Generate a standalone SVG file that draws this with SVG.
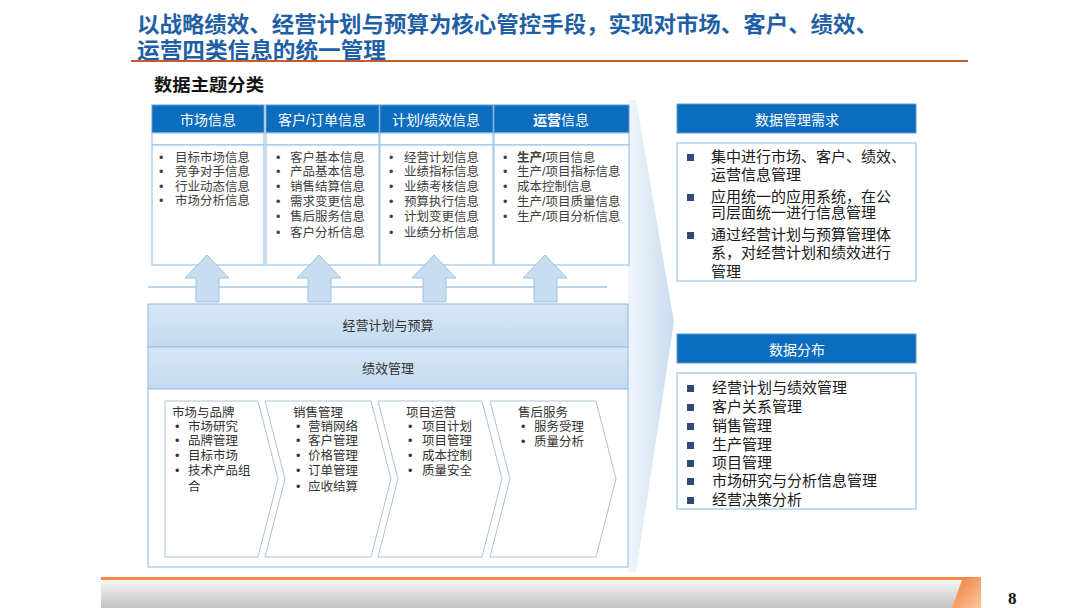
<svg xmlns="http://www.w3.org/2000/svg" width="1080" height="608" viewBox="0 0 1080 608">
<defs>
<linearGradient id="bandG" x1="0" y1="0" x2="0" y2="1"><stop offset="0" stop-color="#D6E6F5"/><stop offset="1" stop-color="#C4DBF0"/></linearGradient>
<linearGradient id="wedgeG" x1="0" y1="0" x2="1" y2="0"><stop offset="0" stop-color="#EEF4FB"/><stop offset="1" stop-color="#C3D9EF"/></linearGradient>
<linearGradient id="footG" x1="0" y1="0" x2="0" y2="1"><stop offset="0" stop-color="#FAFAFA"/><stop offset="0.5" stop-color="#DCDCDC"/><stop offset="1" stop-color="#C4C4C4"/></linearGradient>
<linearGradient id="orG" x1="0" y1="0" x2="1" y2="1"><stop offset="0" stop-color="#F07A3A"/><stop offset="1" stop-color="#FBC79A"/></linearGradient>
<style>
text{font-family:"Liberation Sans","Noto Sans CJK SC",sans-serif;}
.title{font-size:22px;font-weight:bold;fill:#1F5FA6;}
.hdr{font-size:14px;fill:#FFFFFF;text-anchor:middle;}
.hbox{fill:#0C6DBE;stroke:#5B9BD5;stroke-width:1;}
.box{fill:#FFFFFF;stroke:#9DC3E6;stroke-width:1.2;}
.it{font-size:12.5px;fill:#404040;}
.band{fill:url(#bandG);stroke:#9DC3E6;stroke-width:1.2;}
.bt{font-size:13px;fill:#333333;text-anchor:middle;}
.chev{fill:#FFFFFF;stroke:#AFC3D3;stroke-width:1;}
.ct{font-size:12.5px;fill:#333333;}
.rt{font-size:15px;fill:#1A1A1A;}
.sq{fill:#2F4A78;}
.up{fill:#C9DDF1;stroke:#9DC3E6;stroke-width:1;}
</style>
</defs>
<rect width="1080" height="608" fill="#FFFFFF"/>

<g id="title">
<text class="title" x="137" y="32" textLength="741" lengthAdjust="spacingAndGlyphs">以战略绩效、经营计划与预算为核心管控手段，实现对市场、客户、绩效、</text>
<text class="title" x="137" y="58" textLength="249" lengthAdjust="spacingAndGlyphs">运营四类信息的统一管理</text>
<line x1="131" y1="61" x2="968" y2="61" stroke="#C55A2B" stroke-width="2"/>
<text x="154" y="91" font-size="17" font-weight="bold" fill="#111111" textLength="110" lengthAdjust="spacingAndGlyphs">数据主题分类</text>
</g>

<g id="wedge">
<polygon points="628,100 636,100 674,322 636,572 628,572" fill="url(#wedgeG)" opacity="0.9"/>
</g>

<g id="col-market">
<rect class="hbox" x="152" y="105" width="112" height="28"/>
<text class="hdr" x="208" y="125">市场信息</text>
<rect class="box" x="152" y="133" width="112" height="12"/>
<rect class="box" x="152" y="145" width="112" height="120"/>
<text class="it"><tspan x="159" y="162">•</tspan><tspan x="175" y="162">目标市场信息</tspan><tspan x="159" y="176">•</tspan><tspan x="175" y="176">竞争对手信息</tspan><tspan x="159" y="191">•</tspan><tspan x="175" y="191">行业动态信息</tspan><tspan x="159" y="205">•</tspan><tspan x="175" y="205">市场分析信息</tspan></text>
</g>

<g id="col-customer">
<rect class="hbox" x="266" y="105" width="113" height="28"/>
<text class="hdr" x="322" y="125">客户/订单信息</text>
<rect class="box" x="266" y="133" width="113" height="12"/>
<rect class="box" x="266" y="145" width="113" height="120"/>
<text class="it"><tspan x="276" y="162">•</tspan><tspan x="290" y="162">客户基本信息</tspan><tspan x="276" y="176">•</tspan><tspan x="290" y="176">产品基本信息</tspan><tspan x="276" y="191">•</tspan><tspan x="290" y="191">销售结算信息</tspan><tspan x="276" y="206">•</tspan><tspan x="290" y="206">需求变更信息</tspan><tspan x="276" y="221">•</tspan><tspan x="290" y="221">售后服务信息</tspan><tspan x="276" y="237">•</tspan><tspan x="290" y="237">客户分析信息</tspan></text>
</g>

<g id="col-plan">
<rect class="hbox" x="380" y="105" width="113" height="28"/>
<text class="hdr" x="436" y="125">计划/绩效信息</text>
<rect class="box" x="380" y="133" width="113" height="12"/>
<rect class="box" x="380" y="145" width="113" height="120"/>
<text class="it"><tspan x="389" y="162">•</tspan><tspan x="404" y="162">经营计划信息</tspan><tspan x="389" y="176">•</tspan><tspan x="404" y="176">业绩指标信息</tspan><tspan x="389" y="191">•</tspan><tspan x="404" y="191">业绩考核信息</tspan><tspan x="389" y="206">•</tspan><tspan x="404" y="206">预算执行信息</tspan><tspan x="389" y="221">•</tspan><tspan x="404" y="221">计划变更信息</tspan><tspan x="389" y="237">•</tspan><tspan x="404" y="237">业绩分析信息</tspan></text>
</g>

<g id="col-ops">
<rect class="hbox" x="494" y="105" width="135" height="28"/>
<text class="hdr" x="561" y="125"><tspan font-weight="bold">运营</tspan>信息</text>
<rect class="box" x="494" y="133" width="135" height="12"/>
<rect class="box" x="494" y="145" width="135" height="120"/>
<text class="it"><tspan x="503" y="162">•</tspan><tspan x="517" y="162" font-weight="bold">生产/</tspan><tspan>项目信息</tspan><tspan x="503" y="176">•</tspan><tspan x="517" y="176">生产/项目指标信息</tspan><tspan x="503" y="191">•</tspan><tspan x="517" y="191">成本控制信息</tspan><tspan x="503" y="206">•</tspan><tspan x="517" y="206">生产/项目质量信息</tspan><tspan x="503" y="221">•</tspan><tspan x="517" y="221">生产/项目分析信息</tspan></text>
</g>

<g id="connectors">
<line x1="148" y1="287" x2="607" y2="287" stroke="#A9C4DC" stroke-width="1.5"/>
<polygon class="up" points="207,255 229,278 219,278 219,302 196,302 196,278 185,278"/>
<polygon class="up" points="319,255 341,278 331,278 331,302 308,302 308,278 297,278"/>
<polygon class="up" points="434,255 456,278 446,278 446,302 423,302 423,278 412,278"/>
<polygon class="up" points="545,255 567,278 557,278 557,302 534,302 534,278 523,278"/>
</g>

<g id="band-plan">
<rect class="band" x="148" y="304" width="480" height="43"/>
<text class="bt" x="388" y="330">经营计划与预算</text>
</g>
<g id="band-perf">
<rect class="band" x="148" y="347" width="480" height="42"/>
<text class="bt" x="388" y="373">绩效管理</text>
</g>

<g id="process">
<rect class="box" x="148" y="389" width="480" height="178"/>
<g id="chev-market">
<polygon class="chev" points="165,401 258,401 278,479 258,557 165,557"/>
<text class="ct"><tspan x="172" y="417">市场与品牌</tspan><tspan x="175" y="431">•</tspan><tspan x="188" y="431">市场研究</tspan><tspan x="175" y="445">•</tspan><tspan x="188" y="445">品牌管理</tspan><tspan x="175" y="460">•</tspan><tspan x="188" y="460">目标市场</tspan><tspan x="175" y="475">•</tspan><tspan x="188" y="475">技术产品组</tspan><tspan x="188" y="491">合</tspan></text>
</g>
<g id="chev-sales">
<polygon class="chev" points="265,401 371,401 391,479 371,557 265,557 285,479"/>
<text class="ct"><tspan x="293" y="417">销售管理</tspan><tspan x="296" y="431">•</tspan><tspan x="308" y="431">营销网络</tspan><tspan x="296" y="445">•</tspan><tspan x="308" y="445">客户管理</tspan><tspan x="296" y="460">•</tspan><tspan x="308" y="460">价格管理</tspan><tspan x="296" y="475">•</tspan><tspan x="308" y="475">订单管理</tspan><tspan x="296" y="491">•</tspan><tspan x="308" y="491">应收结算</tspan></text>
</g>
<g id="chev-project">
<polygon class="chev" points="378,401 482,401 502,479 482,557 378,557 398,479"/>
<text class="ct"><tspan x="406" y="417">项目运营</tspan><tspan x="408" y="431">•</tspan><tspan x="422" y="431">项目计划</tspan><tspan x="408" y="445">•</tspan><tspan x="422" y="445">项目管理</tspan><tspan x="408" y="460">•</tspan><tspan x="422" y="460">成本控制</tspan><tspan x="408" y="475">•</tspan><tspan x="422" y="475">质量安全</tspan></text>
</g>
<g id="chev-service">
<polygon class="chev" points="490,401 596,401 616,479 596,557 490,557 510,479"/>
<text class="ct"><tspan x="518" y="417">售后服务</tspan><tspan x="521" y="431">•</tspan><tspan x="534" y="431">服务受理</tspan><tspan x="521" y="446">•</tspan><tspan x="534" y="446">质量分析</tspan></text>
</g>
</g>

<g id="need">
<rect class="hbox" x="677" y="104" width="239" height="29"/>
<text class="hdr" x="797" y="125" font-size="16">数据管理需求</text>
<rect class="box" x="677" y="143" width="239" height="138"/>
<rect class="sq" x="687" y="154" width="7" height="7"/>
<rect class="sq" x="687" y="194" width="7" height="7"/>
<rect class="sq" x="687" y="232" width="7" height="7"/>
<text class="rt"><tspan x="711" y="162">集中进行市场、客户、绩效、</tspan><tspan x="711" y="180">运营信息管理</tspan><tspan x="711" y="202">应用统一的应用系统，在公</tspan><tspan x="711" y="218">司层面统一进行信息管理</tspan><tspan x="711" y="240">通过经营计划与预算管理体</tspan><tspan x="711" y="258">系，对经营计划和绩效进行</tspan><tspan x="711" y="277">管理</tspan></text>
</g>

<g id="dist">
<rect class="hbox" x="677" y="334" width="239" height="29"/>
<text class="hdr" x="797" y="355" font-size="16">数据分布</text>
<rect class="box" x="677" y="373" width="239" height="136"/>
<rect class="sq" x="687" y="385" width="7" height="7"/>
<rect class="sq" x="687" y="404" width="7" height="7"/>
<rect class="sq" x="687" y="423" width="7" height="7"/>
<rect class="sq" x="687" y="442" width="7" height="7"/>
<rect class="sq" x="687" y="460" width="7" height="7"/>
<rect class="sq" x="687" y="478" width="7" height="7"/>
<rect class="sq" x="687" y="497" width="7" height="7"/>
<text class="rt"><tspan x="712" y="393">经营计划与绩效管理</tspan><tspan x="712" y="412">客户关系管理</tspan><tspan x="712" y="431">销售管理</tspan><tspan x="712" y="450">生产管理</tspan><tspan x="712" y="468">项目管理</tspan><tspan x="712" y="486">市场研究与分析信息管理</tspan><tspan x="712" y="505">经营决策分析</tspan></text>
</g>

<g id="footer">
<rect x="101" y="579" width="880" height="29" fill="url(#footG)"/>
<rect x="101" y="577" width="880" height="3" fill="#F08A4B"/>
<polygon points="962,580 981,577 981,608 952,608" fill="url(#orG)"/>
<text x="1008" y="604" font-size="17" font-weight="bold" fill="#111111" style="font-family:'Liberation Serif',serif">8</text>
</g>
</svg>
